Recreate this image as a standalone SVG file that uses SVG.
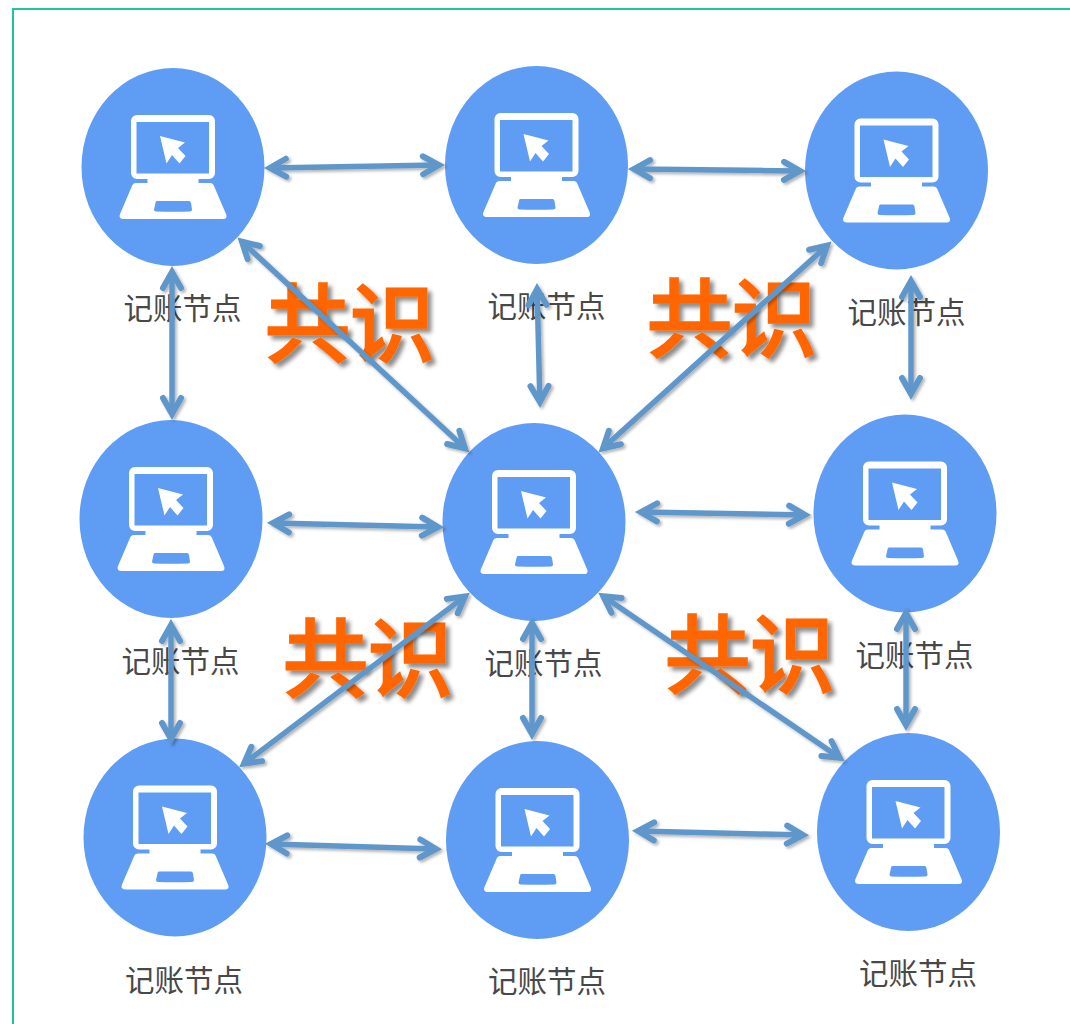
<svg xmlns="http://www.w3.org/2000/svg" width="1070" height="1024" viewBox="0 0 1070 1024">
<style>
.c{fill:#5f9cf4}
.w{fill:#fff}
.l{font-family:"Noto Sans CJK SC","Noto Sans",sans-serif;font-size:29.500px;fill:#484848;text-anchor:middle}
.g{font-family:"Noto Sans CJK SC","Noto Sans",sans-serif;font-size:85px;font-weight:400;fill:#ff6600;stroke:#ff6600;stroke-width:3px;text-anchor:middle;filter:url(#ts)}
.a{fill:none;stroke:#5f97cb;stroke-width:5.500;marker-start:url(#h);marker-end:url(#h)}
</style>
<defs>
<filter id="ts" x="-10%" y="-10%" width="125%" height="125%"><feDropShadow dx="4" dy="4" stdDeviation="2" flood-color="#000" flood-opacity=".45"/></filter>
<filter id="as" x="-5%" y="-5%" width="110%" height="110%"><feDropShadow dx="2" dy="2" stdDeviation="1.5" flood-color="#000" flood-opacity=".3"/></filter>
<marker id="h" viewBox="-22 -13 34 26" refX="0" refY="0" markerWidth="34" markerHeight="26" markerUnits="userSpaceOnUse" orient="auto-start-reverse"><path d="M-16-9L0 0L-16 9" fill="none" stroke="#5f97cb" stroke-width="6" stroke-linecap="round" stroke-linejoin="miter"/></marker>
<g id="laptop">
<ellipse class="c" cx="0" cy="0" rx="91.5" ry="99"/>
<path class="w" fill-rule="evenodd" d="M-36-52H36a6 6 0 0 1 6 6V6a6 6 0 0 1-6 6H-36a6 6 0 0 1-6-6V-46a6 6 0 0 1 6-6ZM-36.500-45V6.500H36V-45Z"/>
<path class="w" d="M-25.500 10H25.500V16H37Q40 16 41 19L53 47Q55 52 50 52H-49Q-55 52-53 47L-41 19Q-40 16-37 16H-25.500Z"/>
<path class="c" d="M-16 34H16Q17.500 34 18 36L19 42.500Q19 44.500 17 44.500Q0 45-17 44.500Q-19 44.500-19 42.500L-17.500 36Q-17.500 34-16 34Z"/>
<path class="w" d="M-13-31L12-24.500L5-19L12.500-11L6.500-3.500L-1-12L-6.500-3.500Z"/>
</g>
</defs>
<rect width="1070" height="1024" fill="#fff"/>
<path d="M13 1024V9H1070" fill="none" stroke="#1fc4a0" stroke-width="2"/>
<g id="nodes">
<g id="n1"><use href="#laptop" x="173" y="167"/></g>
<g id="n2"><use href="#laptop" x="536.500" y="165"/></g>
<g id="n3"><use href="#laptop" x="896.500" y="170.500"/></g>
<g id="n4"><use href="#laptop" x="171" y="519"/></g>
<g id="n5"><use href="#laptop" x="534" y="522"/></g>
<g id="n6"><use href="#laptop" x="905" y="513.500"/></g>
<g id="n7"><use href="#laptop" x="175" y="837.500"/></g>
<g id="n8"><use href="#laptop" x="537.500" y="840"/></g>
<g id="n9"><use href="#laptop" x="908.500" y="832"/></g>
</g>
<g id="labels">
<text class="l" x="182.500" y="319">记账节点</text>
<text class="l" x="546.500" y="317">记账节点</text>
<text class="l" x="906.500" y="323">记账节点</text>
<text class="l" x="180.500" y="672">记账节点</text>
<text class="l" x="543.500" y="674">记账节点</text>
<text class="l" x="914.500" y="666">记账节点</text>
<text class="l" x="184" y="991">记账节点</text>
<text class="l" x="547" y="992">记账节点</text>
<text class="l" x="918" y="984">记账节点</text>
</g>
<g id="titles">
<text class="g" x="350" y="355">共识</text>
<text class="g" x="732" y="350">共识</text>
<text class="g" x="368" y="690">共识</text>
<text class="g" x="750" y="686">共识</text>
</g>
<g id="connectors" filter="url(#as)">
<path class="a" d="M270 168L439 165"/>
<path class="a" d="M634 169L800 171"/>
<path class="a" d="M172 272L172 414"/>
<path class="a" d="M537.100 289L539.900 402"/>
<path class="a" d="M911 281L911 394"/>
<path class="a" d="M242 241.700L465 448.300"/>
<path class="a" d="M827 245.700L603 448.300"/>
<path class="a" d="M273 523L438 527"/>
<path class="a" d="M641 512L805 515"/>
<path class="a" d="M171 625L171 739"/>
<path class="a" d="M532 623L532 734"/>
<path class="a" d="M906 613L906 725"/>
<path class="a" d="M465 596.400L244 763.600"/>
<path class="a" d="M603.300 596.300L839.700 757.700"/>
<path class="a" d="M271 844L436 849"/>
<path class="a" d="M638 831L803 835"/>
</g>
</svg>
